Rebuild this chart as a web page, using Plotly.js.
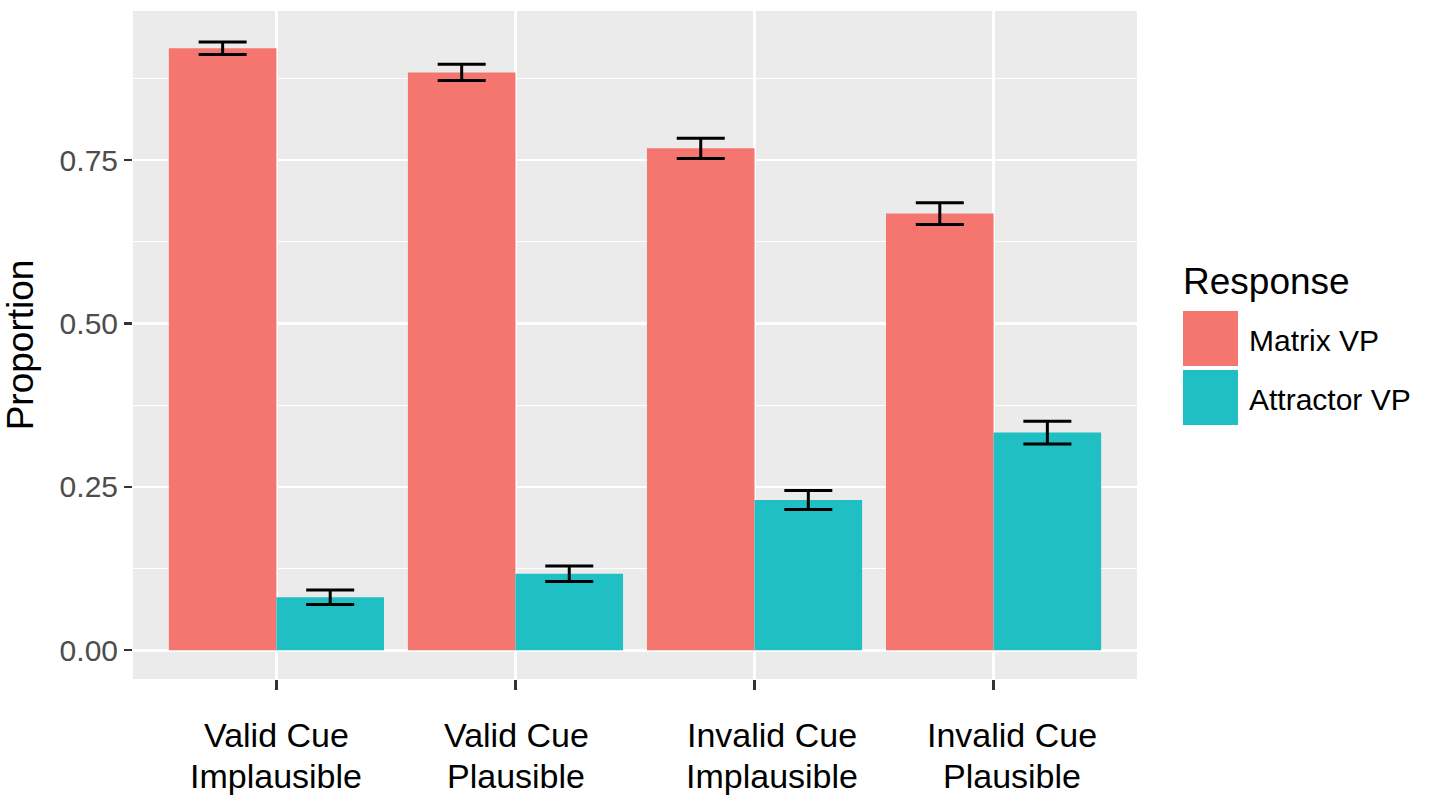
<!DOCTYPE html>
<html>
<head>
<meta charset="utf-8">
<script src="https://cdn.plot.ly/plotly-3.0.1.min.js"></script>
<style>html,body{margin:0;padding:0;background:#fff;}#chart{width:1430px;height:796px;}</style>
</head>
<body>
<div id="chart"></div>
<script>
// ---- data ----
var categories = ['Valid Cue Implausible', 'Valid Cue Plausible', 'Invalid Cue Implausible', 'Invalid Cue Plausible'];
var labelLine1 = ['Valid Cue', 'Valid Cue', 'Invalid Cue', 'Invalid Cue'];
var labelLine2 = ['Implausible', 'Plausible', 'Implausible', 'Plausible'];
var seriesNames = ['Matrix VP', 'Attractor VP'];
var matrixVP = [0.921, 0.884, 0.768, 0.668];
var matrixErr = [0.0095, 0.0125, 0.0155, 0.0165];
var attractorVP = [0.081, 0.117, 0.230, 0.333];
var attractorErr = [0.011, 0.012, 0.0145, 0.0175];
var yTickVals = [0, 0.25, 0.5, 0.75];
var yTickText = ['0.00', '0.25', '0.50', '0.75'];
var legendTitle = 'Response';
var yTitle = 'Proportion';

// ---- styles ----
var colors = ['#F5766E', '#1FBFC3'];
var W = 1430, H = 796;
var m = {l: 133, r: 293, t: 11, b: 117};
var pw = W - m.l - m.r, ph = H - m.t - m.b;
function px(x) { return (x - m.l) / pw; }
function py(y) { return (H - m.b - y) / ph; }

var errStyle = {type: 'data', visible: true, color: '#000', thickness: 3, width: 24};

var traces = [
  {type: 'bar', name: seriesNames[0], x: categories, y: matrixVP,
   marker: {color: colors[0], line: {width: 0}},
   error_y: Object.assign({array: matrixErr}, errStyle), showlegend: false, hoverinfo: 'x+y'},
  {type: 'bar', name: seriesNames[1], x: categories, y: attractorVP,
   marker: {color: colors[1], line: {width: 0}},
   error_y: Object.assign({array: attractorErr}, errStyle), showlegend: false, hoverinfo: 'x+y'}
];

var annotations = [];
var xShift = [0, 1, 17, 18];
for (var i = 0; i < categories.length; i++) {
  annotations.push({x: categories[i], xref: 'x', y: py(735), yref: 'paper', xshift: xShift[i],
    text: labelLine1[i], showarrow: false, xanchor: 'center', yanchor: 'middle',
    font: {family: 'Liberation Sans, Arial, sans-serif', size: 34, color: '#000'}});
  annotations.push({x: categories[i], xref: 'x', y: py(776), yref: 'paper', xshift: xShift[i],
    text: labelLine2[i], showarrow: false, xanchor: 'center', yanchor: 'middle',
    font: {family: 'Liberation Sans, Arial, sans-serif', size: 34, color: '#000'}});
}
// legend (custom, ggplot-like)
annotations.push({x: px(1181), y: py(281), xref: 'paper', yref: 'paper', text: legendTitle,
  showarrow: false, xanchor: 'left', yanchor: 'middle',
  font: {family: 'Liberation Sans, Arial, sans-serif', size: 37, color: '#000'}});
var keyTop = [311, 370];
var shapes = [];
for (var k = 0; k < seriesNames.length; k++) {
  shapes.push({type: 'rect', xref: 'paper', yref: 'paper', x0: px(1183), x1: px(1238),
    y0: py(keyTop[k]), y1: py(keyTop[k] + 55), fillcolor: colors[k], line: {width: 0}, layer: 'above'});
  annotations.push({x: px(1247), y: py(keyTop[k] + 29), xref: 'paper', yref: 'paper', text: seriesNames[k],
    showarrow: false, xanchor: 'left', yanchor: 'middle',
    font: {family: 'Liberation Sans, Arial, sans-serif', size: 30, color: '#000'}});
}

var layout = {
  width: W, height: H,
  margin: m,
  paper_bgcolor: '#ffffff',
  plot_bgcolor: '#EBEBEB',
  font: {family: 'Liberation Sans, Arial, sans-serif', color: '#000'},
  barmode: 'group', bargap: 0.1, bargroupgap: 0,
  showlegend: false,
  xaxis: {
    type: 'category', range: [-0.6, 3.6], fixedrange: true,
    showgrid: true, gridcolor: '#ffffff', gridwidth: 2.6,
    zeroline: false, showline: false,
    ticks: 'outside', ticklen: 10, tickwidth: 2.4, tickcolor: '#333333',
    showticklabels: false
  },
  yaxis: {
    range: [-0.044, 0.978], fixedrange: true,
    tickvals: yTickVals, ticktext: yTickText,
    showgrid: true, gridcolor: '#ffffff', gridwidth: 2.6,
    minor: {tick0: 0.125, dtick: 0.25, showgrid: true, gridcolor: '#ffffff', gridwidth: 1.2, ticks: ''},
    zeroline: false, showline: false,
    ticks: 'outside', ticklen: 8, tickwidth: 2.4, tickcolor: '#333333',
    tickfont: {family: 'Liberation Sans, Arial, sans-serif', size: 30, color: '#4D4D4D'},
    title: {text: yTitle, standoff: 14, font: {family: 'Liberation Sans, Arial, sans-serif', size: 37, color: '#000'}},
    automargin: false
  },
  annotations: annotations,
  shapes: shapes
};

Plotly.newPlot('chart', traces, layout, {displayModeBar: false, staticPlot: true});
</script>
</body>
</html>
